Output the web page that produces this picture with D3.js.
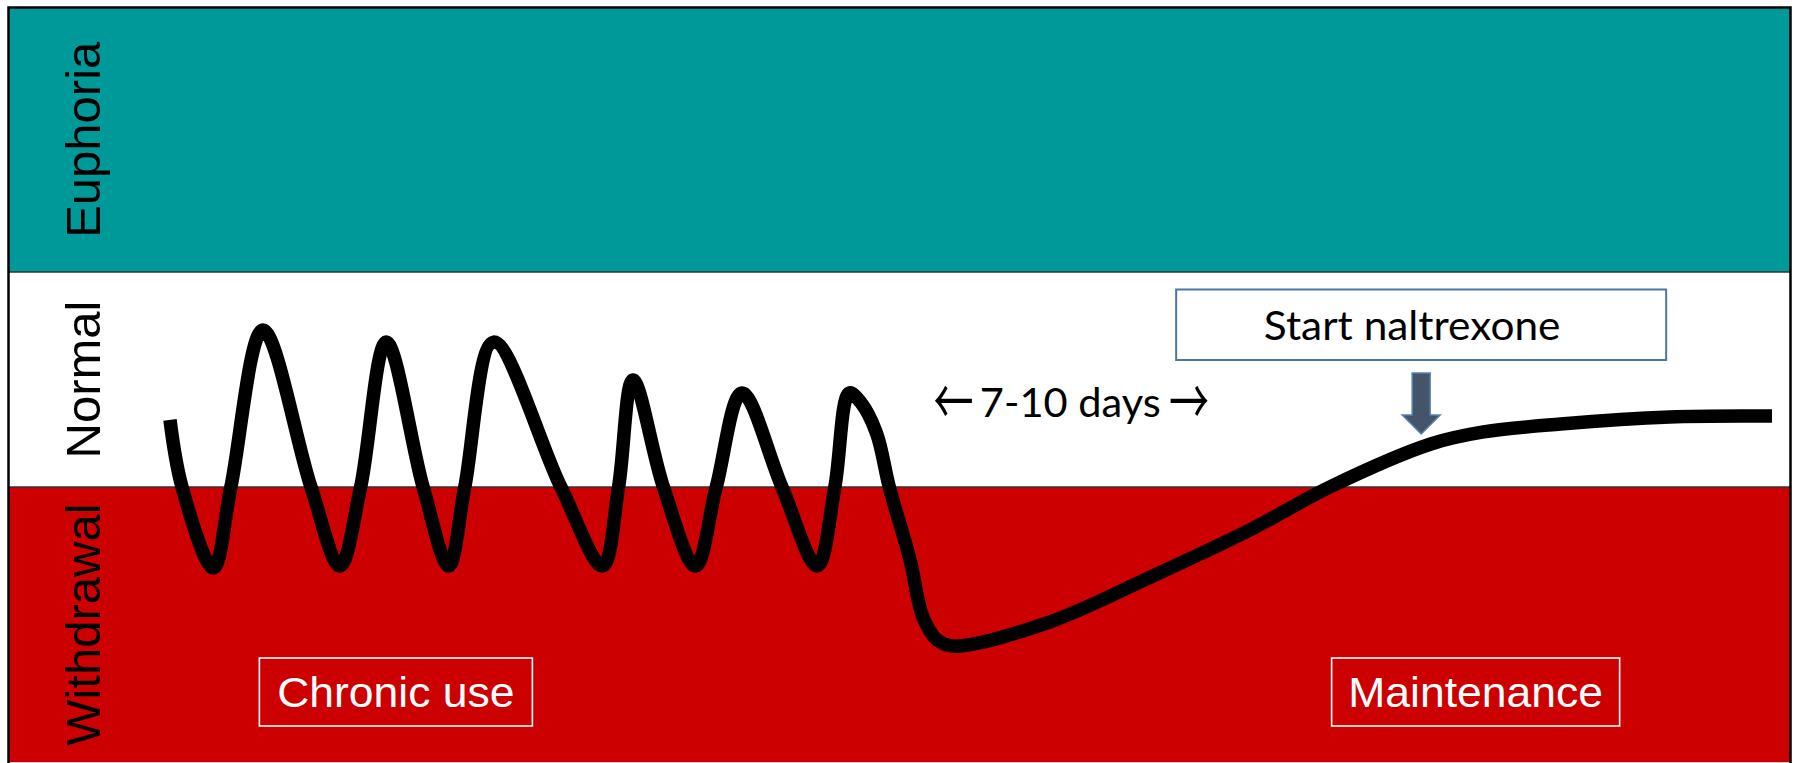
<!DOCTYPE html>
<html>
<head>
<meta charset="utf-8">
<script src="https://cdn.jsdelivr.net/npm/d3@7"></script>
<style>
  html, body { margin: 0; padding: 0; background: #ffffff; }
  svg { display: block; }
</style>
</head>
<body>
<svg id="chart" width="1797" height="763"></svg>
<script>
// Mood states, stacked from bottom to top (mood level units: 0 = withdrawal threshold, 100 = euphoria threshold)
const bandNames  = ["Withdrawal", "Normal", "Euphoria"];
const bandLow    = [-128, 0, 100];
const bandHigh   = [0, 100, 223];
const bandColors = ["#cc0000", "#ffffff", "#009999"];

// Mood course over time (time in arbitrary units 0–100)
const timePoints = [
  0, 0.75, 2.7, 3.8, 5.8, 8.8, 10.6, 11.9, 13.5, 15.8, 17.4, 18.4, 20.2, 24.4,
  27.0, 28.0, 28.9, 30.8, 32.8, 34.1, 35.7, 38.2, 40.4, 41.5, 42.4, 43.1, 44.1, 44.9,
  46.2, 47.0, 47.9, 48.9, 54.9, 61.2, 67.4, 72.4, 78.7, 82.0, 86.8, 93.6, 100
];
const moodLevel = [
  31.2, 0, -37.7, 0, 73.0, 0, -36.7, 0, 67.4, 0, -36.7, 0, 67.4, 0,
  -36.7, 0, 49.8, 0, -36.7, 0, 43.7, 0, -36.7, 0, 43.7, 39.5, 25.1, 0,
  -34.0, -60.5, -71.2, -74.0, -62.8, -41.9, -20.0, 0, 20.0, 25.6, 29.3, 32.6, 33.0
];

// Phase labels and annotations
const phaseLabels = ["Chronic use", "Maintenance"];
const phaseTime   = [14.1, 81.5];
const gapArrows   = ["\u2190", "\u2192"];
const gapArrowTime = [48.9, 63.6];
const gapLabel    = "7-10 days";
const gapTime     = 56.2;
const startLabel  = "Start naltrexone";
const startTime   = 78.1;

const W = 1797, H = 763;
const frame = { left: 8.5, right: 1790.5, top: 7.5 };

const x = d3.scaleLinear().domain([0, 100]).range([170, 1772]);
const y = d3.scaleLinear().domain([0, 100]).range([487, 272]);

const svg = d3.select("#chart");

// Background bands
const bands = bandNames.map((name, i) => ({ name, lo: bandLow[i], hi: bandHigh[i], color: bandColors[i] }));
svg.append("g").selectAll("rect").data(bands).join("rect")
  .attr("x", frame.left)
  .attr("width", frame.right - frame.left)
  .attr("y", d => y(d.hi))
  .attr("height", d => y(d.lo) - y(d.hi))
  .attr("fill", d => d.color);

// Thin separators between bands
svg.append("g").selectAll("line").data(bandLow.slice(1)).join("line")
  .attr("x1", frame.left).attr("x2", frame.right)
  .attr("y1", d => y(d)).attr("y2", d => y(d))
  .attr("stroke", "#333333").attr("stroke-width", 1.6);

// Outer frame
svg.append("path")
  .attr("d", `M${frame.left},${H + 2}V${frame.top}H${frame.right}V${H + 2}`)
  .attr("fill", "none").attr("stroke", "#000").attr("stroke-width", 2.5);

// Vertical band names
svg.append("g").selectAll("text").data(bands).join("text")
  .attr("transform", d => `translate(100,${(y(d.lo) + y(d.hi)) / 2}) rotate(-90)`)
  .attr("text-anchor", "middle")
  .attr("font-family", "'Liberation Sans', Arial, sans-serif")
  .attr("font-size", 49)
  .attr("fill", "#000")
  .text(d => d.name);

// Mood curve
const series = timePoints.map((t, i) => ({ t, m: moodLevel[i] }));
const line = d3.line().x(d => x(d.t)).y(d => y(d.m)).curve(d3.curveCatmullRom.alpha(0.5));
svg.append("path")
  .datum(series)
  .attr("d", line)
  .attr("fill", "none")
  .attr("stroke", "#000")
  .attr("stroke-width", 13.5)
  .attr("stroke-linecap", "butt")
  .attr("stroke-linejoin", "round");

// Phase boxes in the withdrawal band
const phaseBoxW = [273, 288];
const phaseG = svg.append("g").selectAll("g").data(phaseLabels).join("g")
  .attr("transform", (d, i) => `translate(${x(phaseTime[i])},692)`);
phaseG.append("rect")
  .attr("x", (d, i) => -phaseBoxW[i] / 2).attr("y", -34)
  .attr("width", (d, i) => phaseBoxW[i]).attr("height", 68)
  .attr("fill", "none").attr("stroke", "#ffffff").attr("stroke-width", 1.6);
phaseG.append("text")
  .attr("transform", "translate(0,15) scale(1.06,1)")
  .attr("text-anchor", "middle")
  .attr("font-family", "'Liberation Sans', Arial, sans-serif")
  .attr("font-size", 42)
  .attr("fill", "#ffffff")
  .text(d => d);

// Withdrawal duration annotation: label flanked by arrows
svg.append("text")
  .attr("transform", `translate(${x(gapTime)},417) scale(1.04,1)`)
  .attr("text-anchor", "middle")
  .attr("font-family", "Lato, 'Open Sans', sans-serif")
  .attr("font-size", 40)
  .attr("fill", "#000")
  .text(gapLabel);
svg.append("g").selectAll("text").data(gapArrows).join("text")
  .attr("transform", (d, i) => `translate(${x(gapArrowTime[i])},401) scale(1.0,1.6)`)
  .attr("y", 15)
  .attr("text-anchor", "middle")
  .attr("font-family", "'Noto Sans CJK JP', sans-serif")
  .attr("font-size", 40)
  .attr("fill", "#000")
  .text(d => d);

// "Start naltrexone" callout with downward arrow
const sx = x(startTime);
svg.append("rect")
  .attr("x", sx - 245).attr("y", 289.5)
  .attr("width", 490).attr("height", 70.5)
  .attr("fill", "#ffffff").attr("stroke", "#4a76aa").attr("stroke-width", 2);
svg.append("text")
  .attr("transform", `translate(${sx - 9},340) scale(1.06,1)`)
  .attr("text-anchor", "middle")
  .attr("font-family", "Lato, 'Open Sans', sans-serif")
  .attr("font-size", 40)
  .attr("fill", "#000")
  .text(startLabel);
svg.append("path")
  .attr("d", `M${sx - 9},373 h18 v42 h10 l-19,19 l-19,-19 h10 z`)
  .attr("fill", "#44546a").attr("stroke", "#5a80b2").attr("stroke-width", 1.5)
  .attr("stroke-linejoin", "miter");
</script>
</body>
</html>
